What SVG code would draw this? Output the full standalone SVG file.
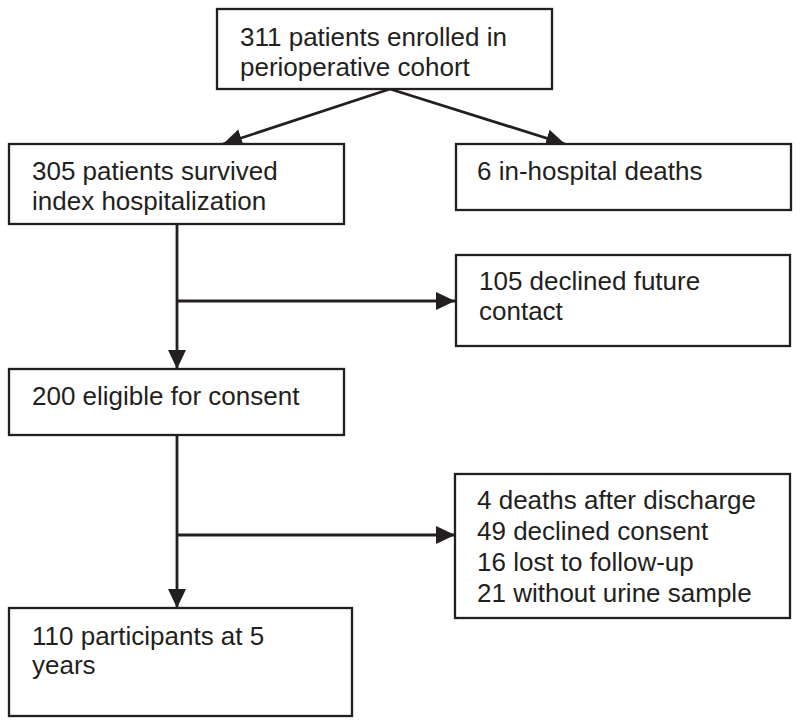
<svg xmlns="http://www.w3.org/2000/svg" width="800" height="727" viewBox="0 0 800 727">
<style>
.box{fill:#fff;stroke:#231f20;stroke-width:2.3}
.t{font-family:"Liberation Sans",Arial,sans-serif;font-size:26px;fill:#231f20}
.c{stroke:#231f20;stroke-width:2.8;fill:none}
</style>
<defs>
<marker id="ah" markerUnits="userSpaceOnUse" markerWidth="20" markerHeight="20" viewBox="0 0 20 20" refX="19" refY="10" orient="auto">
<path d="M0,1 L19,10 L0,19 Z" fill="#231f20"/>
</marker>
</defs>
<rect width="800" height="727" fill="#fff"/>
<g id="connectors">
<line class="c" x1="390" y1="89" x2="223" y2="144" marker-end="url(#ah)"/>
<line class="c" x1="390" y1="89" x2="565" y2="144" marker-end="url(#ah)"/>
<line class="c" x1="177" y1="224" x2="177" y2="369" marker-end="url(#ah)"/>
<line class="c" x1="177" y1="301" x2="455" y2="301" marker-end="url(#ah)"/>
<line class="c" x1="177" y1="435" x2="177" y2="608" marker-end="url(#ah)"/>
<line class="c" x1="177" y1="535" x2="455" y2="535" marker-end="url(#ah)"/>
</g>
<g id="n1">
<rect class="box" x="217" y="9" width="335" height="80"/>
<text class="t" x="240" y="46">311 patients enrolled in</text>
<text class="t" x="240" y="76">perioperative cohort</text>
</g>
<g id="n2">
<rect class="box" x="9" y="144" width="335" height="80"/>
<text class="t" x="32" y="180">305 patients survived</text>
<text class="t" x="32" y="210">index hospitalization</text>
</g>
<g id="n3">
<rect class="box" x="456" y="144" width="335" height="66"/>
<text class="t" x="477" y="180">6 in-hospital deaths</text>
</g>
<g id="n4">
<rect class="box" x="456" y="255" width="334" height="91"/>
<text class="t" x="479" y="290">105 declined future</text>
<text class="t" x="479" y="320">contact</text>
</g>
<g id="n5">
<rect class="box" x="9" y="369" width="335" height="66"/>
<text class="t" x="32" y="405">200 eligible for consent</text>
</g>
<g id="n6">
<rect class="box" x="455" y="474" width="335" height="144"/>
<text class="t" x="477" y="509">4 deaths after discharge</text>
<text class="t" x="477" y="540">49 declined consent</text>
<text class="t" x="477" y="571">16 lost to follow-up</text>
<text class="t" x="477" y="602">21 without urine sample</text>
</g>
<g id="n7">
<rect class="box" x="9" y="608" width="343" height="108"/>
<text class="t" x="32" y="645">110 participants at 5</text>
<text class="t" x="32" y="674">years</text>
</g>
</svg>
